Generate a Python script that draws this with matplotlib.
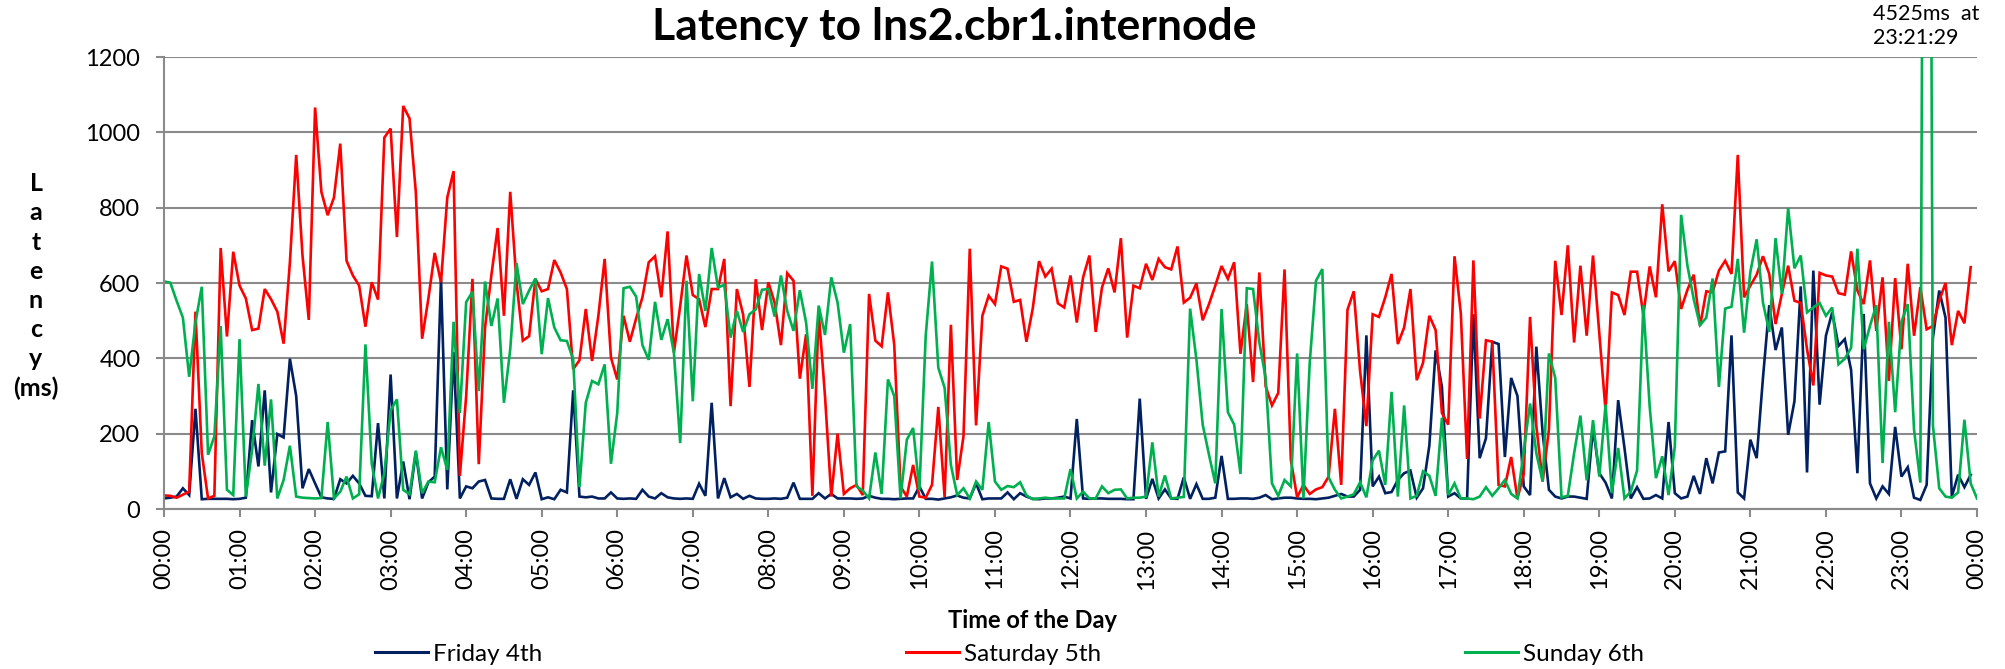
import numpy as np
import matplotlib
matplotlib.use("Agg")
import matplotlib.pyplot as plt
from matplotlib.lines import Line2D

# ---- data: latency (ms) sampled every 5 minutes from 00:00 ----
friday = [
    28, 30, 33, 55, 37, 266, 26, 27, 27, 27, 27, 26, 27, 30, 236, 113, 315, 44, 199, 190, 399, 300, 55, 106, 68, 31, 28, 27, 79, 68, 88, 68, 35, 34, 228, 28,
    357, 28, 126, 26, 150, 28, 71, 86, 612, 52, 417, 28, 60, 55, 73, 77, 28, 27, 27, 79, 27, 79, 64, 97, 26, 31, 26, 51, 44, 315, 33, 31, 33, 28, 28, 44, 28,
    27, 28, 27, 51, 33, 28, 42, 31, 28, 27, 28, 27, 67, 35, 282, 28, 82, 31, 40, 27, 35, 28, 27, 27, 28, 27, 30, 70, 27, 27, 27, 42, 28, 40, 28, 28,
    28, 27, 28, 35, 30, 27, 27, 26, 27, 28, 28, 60, 27, 27, 25, 28, 31, 36, 30, 28, 68, 26, 28, 28, 28, 44, 26, 42, 33, 27, 26, 28, 28, 30, 33, 28, 239,
    28, 27, 28, 28, 27, 27, 27, 26, 26, 293, 27, 80, 28, 52, 28, 27, 84, 27, 66, 27, 27, 30, 141, 27, 27, 28, 28, 27, 30, 37, 26, 28, 30, 30, 28, 27,
    27, 26, 28, 30, 35, 40, 33, 33, 51, 461, 60, 86, 42, 45, 77, 95, 102, 30, 55, 168, 421, 324, 33, 42, 28, 28, 517, 135, 188, 444, 438, 138, 348, 300, 60, 37,
    431, 202, 51, 33, 28, 33, 33, 30, 27, 215, 95, 70, 28, 289, 162, 28, 58, 27, 28, 37, 28, 231, 42, 28, 33, 88, 40, 135, 68, 150, 153, 461, 44, 28, 184, 135, 348,
    541, 422, 482, 197, 286, 591, 97, 633, 277, 460, 522, 433, 451, 369, 95, 518, 68, 28, 60, 40, 218, 86, 111, 30, 24, 64, 455, 580, 508, 33, 91, 58, 91,
]
saturday = [
    36, 35, 30, 38, 46, 524, 148, 28, 35, 693, 458, 683, 593, 559, 475, 479, 584, 557, 524, 439, 655, 940, 673, 502, 1066, 842, 780, 827, 970, 659, 620, 593, 484, 602, 556, 986,
    1010, 722, 1070, 1037, 842, 452, 559, 680, 602, 827, 897, 88, 300, 611, 119, 482, 620, 746, 513, 842, 602, 447, 459, 611, 578, 584, 661, 628, 584, 371, 395, 531, 393, 513, 664, 402, 344,
    513, 444, 506, 562, 655, 671, 562, 737, 415, 539, 673, 568, 557, 483, 584, 584, 664, 273, 584, 516, 324, 610, 475, 602, 548, 435, 626, 606, 346, 464, 35, 522, 300, 33, 200, 40,
    55, 64, 37, 571, 447, 432, 575, 436, 60, 33, 117, 33, 30, 64, 271, 32, 489, 77, 193, 691, 222, 513, 566, 544, 644, 638, 550, 555, 444, 532, 658, 617, 638, 546, 535, 620, 495,
    615, 673, 470, 588, 639, 575, 719, 455, 593, 586, 651, 608, 664, 642, 636, 697, 548, 561, 599, 501, 544, 593, 645, 611, 655, 412, 544, 337, 628, 326, 275, 308, 636, 131, 31, 64,
    40, 52, 58, 86, 266, 64, 529, 578, 366, 220, 517, 510, 562, 624, 438, 482, 584, 342, 388, 513, 475, 255, 224, 671, 520, 133, 660, 240, 448, 444, 64, 60, 138, 28, 93, 510,
    220, 73, 211, 659, 515, 700, 442, 646, 460, 673, 468, 260, 575, 568, 515, 630, 630, 515, 644, 562, 809, 631, 658, 531, 582, 622, 486, 578, 575, 633, 659, 624, 940, 562, 593, 622, 671,
    624, 491, 571, 646, 553, 547, 424, 328, 627, 620, 617, 573, 569, 684, 580, 544, 660, 473, 615, 340, 613, 424, 651, 460, 589, 477, 486, 553, 600, 435, 526, 493, 642,
]
sunday = [
    604, 601, 553, 508, 351, 495, 590, 144, 193, 486, 51, 37, 451, 33, 157, 332, 115, 291, 28, 77, 168, 33, 30, 29, 28, 29, 231, 28, 46, 86, 28, 39, 437, 120, 28, 95,
    262, 291, 51, 39, 155, 42, 73, 71, 164, 104, 497, 255, 549, 577, 313, 604, 486, 559, 282, 424, 653, 544, 580, 612, 411, 560, 482, 448, 446, 397, 58, 282, 340, 331, 384, 120, 255,
    586, 590, 564, 435, 396, 550, 449, 504, 415, 175, 606, 286, 624, 526, 693, 588, 595, 455, 526, 470, 517, 530, 582, 584, 511, 620, 526, 473, 581, 495, 319, 540, 462, 615, 548, 415,
    491, 60, 49, 28, 150, 40, 344, 300, 28, 184, 215, 51, 460, 657, 375, 322, 117, 37, 55, 28, 73, 51, 231, 73, 51, 61, 58, 71, 36, 26, 28, 30, 28, 28, 28, 106, 28,
    46, 28, 28, 60, 42, 51, 52, 28, 30, 30, 33, 177, 33, 89, 28, 30, 32, 532, 397, 224, 144, 68, 531, 257, 224, 93, 586, 584, 442, 348, 68, 35, 77, 60, 413, 28,
    388, 606, 637, 84, 51, 28, 33, 39, 71, 31, 129, 155, 64, 311, 33, 275, 28, 35, 100, 88, 35, 242, 37, 68, 28, 28, 26, 33, 58, 35, 55, 77, 40, 28, 153, 280,
    148, 73, 413, 348, 31, 35, 148, 248, 76, 236, 86, 277, 42, 162, 28, 46, 102, 541, 273, 82, 140, 37, 166, 781, 646, 557, 488, 508, 612, 324, 532, 537, 664, 468, 630, 716, 548,
    470, 719, 571, 799, 639, 673, 522, 535, 547, 513, 535, 384, 399, 428, 691, 424, 486, 541, 122, 497, 257, 497, 544, 211, 70, 4525, 221, 55, 33, 30, 44, 237, 68, 28,
]
series_names = ["Friday 4th", "Saturday 5th", "Sunday 6th"]
series_colors = ["#002060", "#FF0000", "#00B050"]
tick_labels = ["%02d:00" % (h % 24) for h in range(25)]
y_ticks = [0, 200, 400, 600, 800, 1000, 1200]

FONT = ["Lato", "DejaVu Sans"]
plt.rcParams["font.family"] = FONT

W, H = 2006, 669
fig = plt.figure(figsize=(W / 100, H / 100), dpi=100)
ax = fig.add_axes([164 / W, 1 - 509 / H, (1977 - 164) / W, (509 - 57) / H])

step_h = 5 / 60.0
for vals, name, col in zip([friday, saturday, sunday], series_names, series_colors):
    t = np.arange(len(vals)) * step_h
    ax.plot(t, vals, color=col, lw=1.9, label=name, solid_joinstyle="miter")

ax.set_xlim(0, 24)
ax.set_ylim(0, 1200)
ax.set_yticks(y_ticks)
ax.set_xticks(range(25))
ax.set_xticklabels(tick_labels, rotation=90)
gcol = "#8a8a8a"
ax.grid(axis="y", color=gcol, lw=1.5)
ax.set_axisbelow(True)
for s in ["top", "right"]:
    ax.spines[s].set_visible(False)
for s in ["left", "bottom"]:
    ax.spines[s].set_color(gcol)
    ax.spines[s].set_linewidth(1.5)
ax.tick_params(axis="both", colors=gcol, width=1.5, length=6, labelcolor="black", labelsize=17)
ax.tick_params(axis="y", pad=11)
ax.tick_params(axis="x", pad=8)

fig.text(954 / W, 1 - 27 / H, "Latency to lns2.cbr1.internode", ha="center", va="center",
         fontsize=32, fontweight="bold")
fig.text(36 / W, 1 - 286 / H, "L\na\nt\ne\nn\nc\ny\n(ms)", ha="center", va="center",
         fontsize=18, fontweight="bold", linespacing=1.32)
fig.text(1032 / W, 1 - 620 / H, "Time of the Day", ha="center", va="center",
         fontsize=17, fontweight="bold")
fig.text(1873 / W, 1 - 4 / H, "4525ms  at\n23:21:29", ha="left", va="top", fontsize=15.5,
         linespacing=1.25)

# legend entries placed individually (handle start x in pixels)
legend_x = [375, 906, 1465]
for name, col, lx in zip(series_names, series_colors, legend_x):
    fig.legend([Line2D([0], [0], color=col, lw=2.2)], [name], loc="center left",
               bbox_to_anchor=(lx / W, 1 - 654 / H), frameon=False, fontsize=17.5,
               handlelength=2.2, handletextpad=0.17, borderaxespad=0, borderpad=0)

fig.savefig("out.png", dpi=100)
